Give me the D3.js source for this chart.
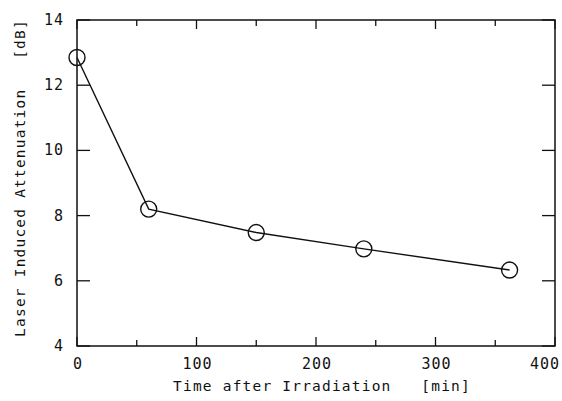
<!DOCTYPE html>
<html>
<head>
<meta charset="utf-8">
<script src="https://cdn.jsdelivr.net/npm/d3@7"></script>
<style>
  body { margin: 0; background: #fff; }
  text { font-family: "DejaVu Sans Mono", monospace; fill: #111; }
</style>
</head>
<body>
<svg id="chart" width="562" height="401"></svg>
<script>
// values
var timeMin = [0, 60, 150, 240, 362]
var attenuation = [12.85, 8.2, 7.48, 6.98, 6.33]

var xTicks = [0, 100, 200, 300, 400]
var yTicks = [4, 6, 8, 10, 12, 14]

var margin = {left: 77, right: 7, top: 20, bottom: 55}
var svg = d3.select('#chart')
var W = +svg.attr('width'), H = +svg.attr('height')

var x = d3.scaleLinear().domain([0, 400]).range([margin.left, W - margin.right])
var y = d3.scaleLinear().domain([4, 14]).range([H - margin.bottom, margin.top])

var x0 = x(0), x1 = x(400), y0 = y(4), y1 = y(14)
var ink = '#111'

// frame
svg.append('rect')
    .attr('x', x0).attr('y', y1)
    .attr('width', x1 - x0).attr('height', y0 - y1)
    .attr('fill', 'none').attr('stroke', ink).attr('stroke-width', 1.5)

// ticks pointing inward, x gets minor ticks at 50s
var g = svg.append('g').attr('stroke', ink).attr('stroke-width', 1.3)
d3.range(0, 401, 50).forEach(function(v) {
    var len = v % 100 === 0 ? 9 : 6
    g.append('line').attr('x1', x(v)).attr('x2', x(v)).attr('y1', y0).attr('y2', y0 - len)
    g.append('line').attr('x1', x(v)).attr('x2', x(v)).attr('y1', y1).attr('y2', y1 + len)
})
yTicks.forEach(function(v) {
    g.append('line').attr('y1', y(v)).attr('y2', y(v)).attr('x1', x0).attr('x2', x0 + 13)
    g.append('line').attr('y1', y(v)).attr('y2', y(v)).attr('x1', x1).attr('x2', x1 - 13)
})

// tick labels (last one pulled in so it stays on the page)
svg.append('g').selectAll('text').data(xTicks).enter().append('text')
    .attr('x', function(d) { return d === 400 ? W - 2 : x(d) + 1 })
    .attr('y', y0 + 23)
    .attr('text-anchor', function(d) { return d === 400 ? 'end' : 'middle' })
    .attr('font-size', 15)
    .attr('letter-spacing', 1)
    .text(function(d) { return d })

svg.append('g').selectAll('text').data(yTicks).enter().append('text')
    .attr('x', x0 - 13)
    .attr('y', function(d) { return y(d) + 5 })
    .attr('text-anchor', 'end')
    .attr('font-size', 15)
    .attr('letter-spacing', 1)
    .text(function(d) { return d })

// axis titles
svg.append('text')
    .attr('x', 322)
    .attr('y', H - 10)
    .attr('text-anchor', 'middle')
    .attr('font-size', 14.5)
    .attr('letter-spacing', 1.2)
    .attr('xml:space', 'preserve')
    .text('Time after Irradiation   [min]')

svg.append('text')
    .attr('transform', 'translate(25,178) rotate(-90)')
    .attr('text-anchor', 'middle')
    .attr('font-size', 14.5)
    .attr('letter-spacing', 1.2)
    .attr('xml:space', 'preserve')
    .text('Laser Induced Attenuation   [dB]')

// data line + open circles
var pts = timeMin.map(function(t, i) { return [t, attenuation[i]] })
svg.append('path')
    .datum(pts)
    .attr('fill', 'none').attr('stroke', ink).attr('stroke-width', 1.4)
    .attr('d', d3.line().x(function(d) { return x(d[0]) }).y(function(d) { return y(d[1]) }))

svg.selectAll('circle.pt').data(pts).enter().append('circle')
    .attr('class', 'pt')
    .attr('cx', function(d) { return x(d[0]) })
    .attr('cy', function(d) { return y(d[1]) })
    .attr('r', 8)
    .attr('fill', 'none').attr('stroke', ink).attr('stroke-width', 1.4)
</script>
</body>
</html>
